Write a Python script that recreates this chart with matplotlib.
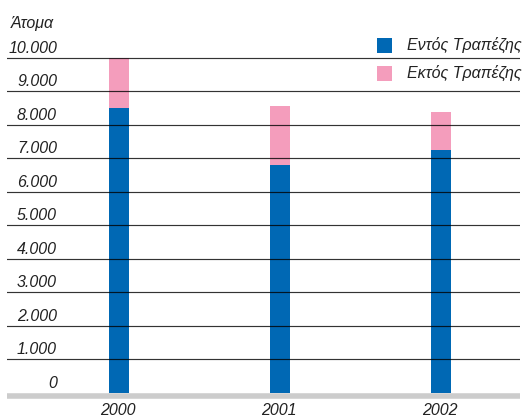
import matplotlib
matplotlib.use("Agg")
import matplotlib.pyplot as plt
from matplotlib.lines import Line2D
from matplotlib.patches import Rectangle
import matplotlib.transforms as mtransforms

years = ["2000", "2001", "2002"]
entos = [8480, 6810, 7250]      # Εντός Τραπέζης
ektos = [1520, 1740, 1140]      # Εκτός Τραπέζης
yticks = [0, 1000, 2000, 3000, 4000, 5000, 6000, 7000, 8000, 9000, 10000]
ytick_labels = ["0", "1.000", "2.000", "3.000", "4.000", "5.000",
                "6.000", "7.000", "8.000", "9.000", "10.000"]
legend_labels = ["Εντός Τραπέζης", "Εκτός Τραπέζης"]
ylabel = "Άτομα"

BLUE = "#0068b4"
PINK = "#f49dbc"
TXT = "#222222"
FONT = "Liberation Sans"

W, H = 523, 417
fig = plt.figure(figsize=(W / 100, H / 100), dpi=100)
# axes: x pixels 7..520, y pixels 0 (top) .. 393 (value 0)
ax = fig.add_axes([7 / W, (H - 393) / H, 513 / W, 393 / H])
ax.set_xlim(-0.696, 2.491)
ax.set_ylim(0, 393 / 33.55 * 1000)
ax.axis("off")

x = list(range(len(years)))
bw = 0.124
ax.bar(x, entos, width=bw, color=BLUE, zorder=2, linewidth=0)
ax.bar(x, ektos, width=bw, bottom=entos, color=PINK, zorder=2, linewidth=0)

for v in yticks[1:]:
    ax.axhline(v, color="black", lw=0.85, alpha=0.8, zorder=3)

# y tick labels sitting above their gridlines
trans = mtransforms.blended_transform_factory(ax.transAxes, ax.transData)
off = mtransforms.offset_copy(trans, fig=fig, x=0, y=5, units="dots")
for v, lab in zip(yticks, ytick_labels):
    ax.text((57 - 7) / 513, v, lab, transform=off, ha="right", va="baseline",
            fontsize=11.5, style="italic", family=FONT, color=TXT)

# baseline gray band
fig.add_artist(Line2D([7 / W, 520 / W], [(H - 395.5) / H] * 2,
                      transform=fig.transFigure, color="#cccccc", lw=4.0,
                      solid_capstyle="butt"))

# year labels
for xi, yr in zip(x, years):
    ax.text(xi, 0, yr, transform=mtransforms.offset_copy(ax.transData, fig=fig, x=-1, y=-22, units="dots"),
            ha="center", va="baseline", fontsize=11.5, style="italic",
            family=FONT, color=TXT)

# y axis title
fig.text(11 / W, (H - 28) / H, ylabel, ha="left", va="baseline", fontsize=11.5,
         style="italic", family=FONT, color=TXT)

# legend
for i, (lab, col) in enumerate(zip(legend_labels, [BLUE, PINK])):
    cy = 45 + 28 * i
    fig.add_artist(Rectangle((377 / W, (H - cy - 7.5) / H), 15 / W, 15 / H,
                             transform=fig.transFigure, color=col, lw=0))
    fig.text(407 / W, (H - cy - 5) / H, lab, ha="left", va="baseline",
             fontsize=11.5, style="italic", family=FONT, color=TXT)

fig.savefig("out.png", dpi=100)
